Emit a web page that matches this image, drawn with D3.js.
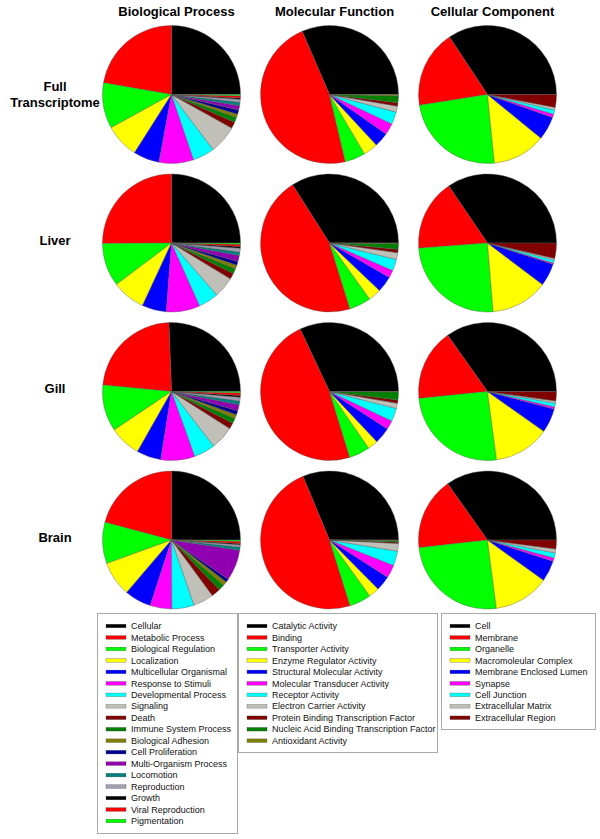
<!DOCTYPE html>
<html>
<head>
<meta charset="utf-8">
<script src="https://cdn.jsdelivr.net/npm/d3@7"></script>
<style>
  body { margin: 0; background: #fff; }
  text { font-family: Arial, "Liberation Sans", sans-serif; }
</style>
</head>
<body>
<svg id="svg" width="600" height="839"></svg>
<script>
// GO categories, one list per ontology
var ontologies = ["Biological Process", "Molecular Function", "Cellular Component"];
var tissues = ["Full Transcriptome", "Liver", "Gill", "Brain"];

var bpTerms = ["Cellular", "Metabolic Process", "Biological Regulation", "Localization",
  "Multicellular Organismal", "Response to Stimuli", "Developmental Process", "Signaling",
  "Death", "Immune System Process", "Biological Adhesion", "Cell Proliferation",
  "Multi-Organism Process", "Locomotion", "Reproduction", "Growth", "Viral Reproduction",
  "Pigmentation"];
var mfTerms = ["Catalytic Activity", "Binding", "Transporter Activity", "Enzyme Regulator Activity",
  "Structural Molecular Activity", "Molecular Transducer Activity", "Receptor Activity",
  "Electron Carrier Activity", "Protein Binding Transcription Factor",
  "Nucleic Acid Binding Transcription Factor", "Antioxidant Activity"];
var ccTerms = ["Cell", "Membrane", "Organelle", "Macromoleular Complex", "Membrane Enclosed Lumen",
  "Synapse", "Cell Junction", "Extracellular Matrix", "Extracellular Region"];

// percentages
var bpFull  = [25, 22.3, 10.7, 8.0, 6.1, 8.1, 5.1, 6.6, 1.5, 1.2, 0.8, 1.0, 1.0, 0.8, 0.7, 0.3, 0.5, 0.3];
var bpLiver = [25, 25.1, 10.2, 7.8, 5.7, 7.9, 4.7, 4.9, 1.4, 1.2, 0.9, 0.9, 1.4, 0.8, 0.9, 0.4, 0.5, 0.3];
var bpGill  = [25.6, 22.9, 10.9, 7.4, 5.7, 8.0, 5.0, 5.5, 1.4, 1.2, 0.9, 1.0, 1.4, 0.9, 0.9, 0.4, 0.6, 0.3];
var bpBrain = [25, 20.85, 9.7, 8.2, 6.25, 5.1, 5.2, 4.8, 2.1, 1.4, 1.0, 0.8, 7.2, 0.8, 0.5, 0.3, 0.5, 0.3];

var mfFull  = [31.5, 47.2, 4.8, 3.4, 3.4, 2.7, 2.9, 1.4, 0.8, 1.6, 0.3];
var mfLiver = [34, 45.8, 5.1, 3.0, 3.8, 1.75, 2.7, 1.6, 0.8, 1.35, 0.1];
var mfGill  = [32, 47.75, 4.9, 2.4, 3.8, 2.1, 3.1, 1.2, 0.8, 1.85, 0.1];
var mfBrain = [31.25, 48.5, 5.1, 2.5, 3.5, 3.05, 3.4, 1.8, 0.3, 0.4, 0.1];

var ccFull  = [34.3, 18.2, 24.1, 12.5, 5.5, 0.8, 1.0, 0.6, 3.0];
var ccLiver = [34.5, 16.7, 25.1, 13.4, 5.3, 0.3, 0.7, 0.4, 3.6];
var ccGill  = [34.8, 16.8, 25.5, 13.1, 5.7, 0.5, 0.9, 0.5, 2.2];
var ccBrain = [34.8, 17.0, 25.25, 13.05, 4.9, 0.8, 1.2, 0.9, 2.1];

var palette = ["#000000", "#ff0000", "#00ff00", "#ffff00", "#0000ff", "#ff00ff", "#00ffff",
  "#c0c0b8", "#800000", "#008000", "#808000", "#000090", "#9000b0", "#008080", "#a0a0b0",
  "#000000", "#ff0000", "#00ff00"];

var groups = [
  {terms: bpTerms, values: [bpFull, bpLiver, bpGill, bpBrain]},
  {terms: mfTerms, values: [mfFull, mfLiver, mfGill, mfBrain]},
  {terms: ccTerms, values: [ccFull, ccLiver, ccGill, ccBrain]}
];

var svg = d3.select("#svg");
var radius = 69;

var x = d3.scalePoint().domain(ontologies).range([171.5, 487.5]);
var y = d3.scalePoint().domain(tissues).range([94.5, 540]);

// pies run counter-clockwise from 3 o'clock
var pie = d3.pie().sort(null)
  .startAngle(Math.PI / 2)
  .endAngle(Math.PI / 2 - 2 * Math.PI);
var arc = d3.arc().innerRadius(0).outerRadius(radius);

// column titles
svg.append("g").selectAll("text")
  .data(ontologies)
  .join("text")
    .attr("x", d => x(d) + 5)
    .attr("y", 16)
    .attr("text-anchor", "middle")
    .attr("font-weight", "bold")
    .attr("font-size", 13)
    .text(d => d);

// row labels
var rowLabels = svg.append("g");
tissues.forEach(function(t) {
  var lines = t.split(" ");
  var txt = rowLabels.append("text")
    .attr("text-anchor", "middle")
    .attr("font-weight", "bold")
    .attr("font-size", 13)
    .attr("x", 55)
    .attr("y", y(t) + 1.5 - (lines.length - 1) * 5);
  lines.forEach(function(l, i) {
    txt.append("tspan").attr("x", 55).attr("dy", i ? 16 : 0).text(l);
  });
});

// pies
groups.forEach(function(g, gi) {
  g.values.forEach(function(vals, ti) {
    svg.append("g")
        .attr("transform", "translate(" + x(ontologies[gi]) + "," + y(tissues[ti]) + ")")
      .selectAll("path")
      .data(pie(vals))
      .join("path")
        .attr("d", arc)
        .attr("fill", (d, i) => palette[i])
        .attr("stroke", "#555")
        .attr("stroke-width", 0.4);
  });
});

// legends
var legendBoxes = [
  {x: 97, w: 140, h: 220},
  {x: 238, w: 199, h: 139},
  {x: 441, w: 154, h: 116}
];
var ly = d3.scaleLinear().domain([0, 1]).range([626, 637.47]);

groups.forEach(function(g, gi) {
  var b = legendBoxes[gi];
  var lg = svg.append("g").attr("transform", "translate(" + b.x + ",613)");
  lg.append("rect")
    .attr("x", 0.5).attr("y", 0.5)
    .attr("width", b.w).attr("height", b.h)
    .attr("fill", "none")
    .attr("stroke", "#a8a8a8");
  var rows = lg.selectAll("g.row")
    .data(g.terms)
    .join("g")
      .attr("transform", (d, i) => "translate(0," + (ly(i) - 613) + ")");
  rows.append("rect")
    .attr("x", 9).attr("y", -1.8)
    .attr("width", 20).attr("height", 3.6)
    .attr("fill", (d, i) => palette[i])
    .attr("stroke", "#444")
    .attr("stroke-width", 0.3);
  rows.append("text")
    .attr("x", 34)
    .attr("y", 3.2)
    .attr("font-size", 9)
    .attr("fill", "#111")
    .text(d => d);
});
</script>
</body>
</html>
